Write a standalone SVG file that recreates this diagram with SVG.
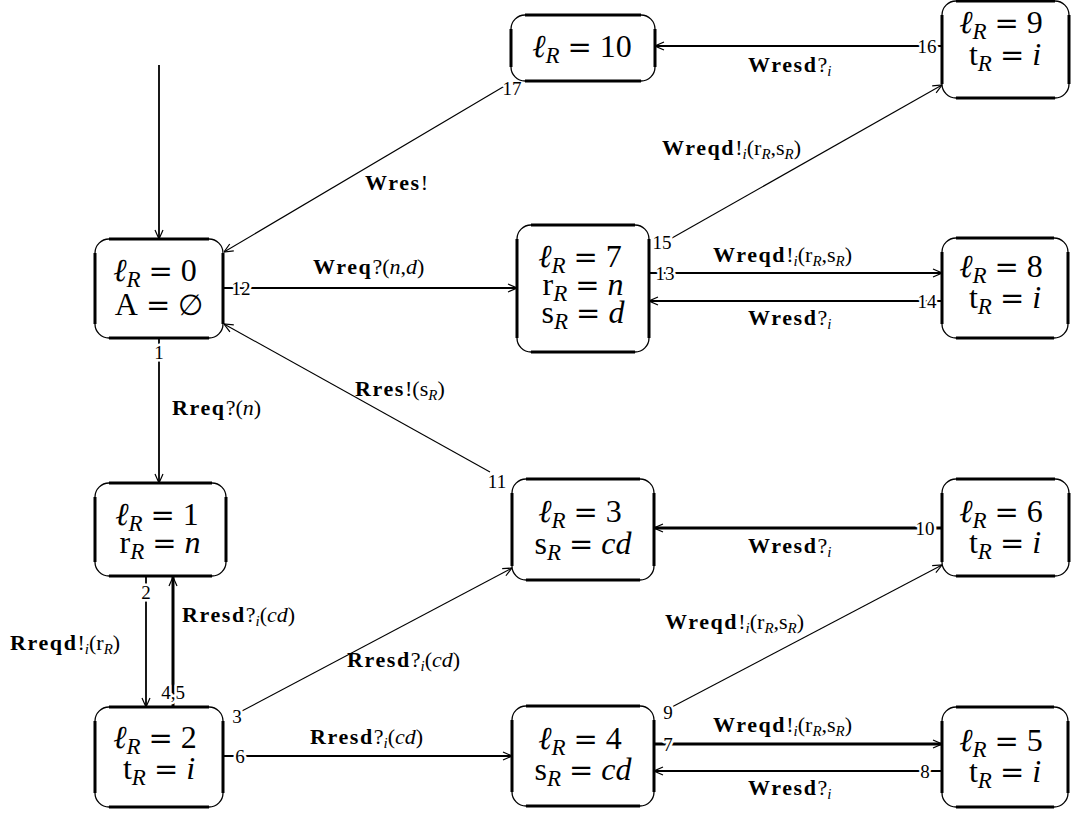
<svg xmlns="http://www.w3.org/2000/svg" width="1071" height="813" viewBox="0 0 1071 813">
  <style>
    text { font-family: "Liberation Serif", "DejaVu Serif", serif; fill: #000; }
    .nt { font-size: 32px; text-anchor: middle; }
    .it { font-style: italic; }
    .sb { font-size: 23px; font-style: italic; }
    .eq { font-family: "DejaVu Serif", serif; font-size: 29px; }
    .lbl { font-size: 22px; }
    .b { font-weight: bold; letter-spacing: 1.6px; }
    .sm { font-size: 15px; font-style: italic; }
    .num { font-size: 19px; text-anchor: middle; paint-order: stroke; stroke: #fff; stroke-width: 5px; stroke-linejoin: round; }
    .box { fill: #fff; stroke: #000; stroke-width: 1.3; }
    .side { fill: none; stroke: #000; stroke-width: 3; }
    .ln { fill: none; stroke: #000; stroke-width: 1.8; marker-end: url(#ah); }
    .thk { stroke-width: 3; }
    .dg { stroke-width: 1.1; }
  </style>
  <defs>
    <marker id="ah" viewBox="0 0 10 10" refX="10" refY="5" markerWidth="10" markerHeight="10" markerUnits="userSpaceOnUse" orient="auto">
      <path d="M1,1 L10,5 L1,9" fill="none" stroke="#000" stroke-width="1.2"/>
    </marker>
  </defs>
  <rect width="1071" height="813" fill="#fff"/>

  <!-- connectors -->
  <g id="connectors">
    <path class="ln" d="M159,65 V239"/>
    <path class="ln" d="M159,338 V483"/>
    <path class="ln" d="M146,576 V707"/>
    <path class="ln thk" d="M173,707 V577"/>
    <path class="ln dg" d="M240,712 L512,568"/>
    <path class="ln" d="M223,756 H512"/>
    <path class="ln thk" d="M654,744 H942"/>
    <path class="ln" d="M942,771 H654"/>
    <path class="ln dg" d="M670,708 L942,565"/>
    <path class="ln thk" d="M942,528 H654"/>
    <path class="ln dg" d="M490,472 L224,324"/>
    <path class="ln" d="M223,288 H517"/>
    <path class="ln" d="M649,273 H942"/>
    <path class="ln" d="M942,301 H649"/>
    <path class="ln dg" d="M672,238 L942,85"/>
    <path class="ln" d="M942,46 H655"/>
    <path class="ln dg" d="M508,84 L224,252"/>

    <!-- transition numbers -->
    <text class="num" x="159" y="359">1</text>
    <text class="num" x="146" y="599">2</text>
    <text class="num" x="237" y="723">3</text>
    <text class="num" x="173" y="699">4,5</text>
    <text class="num" x="240" y="763">6</text>
    <text class="num" x="668" y="751">7</text>
    <text class="num" x="925" y="778">8</text>
    <text class="num" x="668" y="719">9</text>
    <text class="num" x="925" y="535">10</text>
    <text class="num" x="497" y="488">11</text>
    <text class="num" x="241" y="295">12</text>
    <text class="num" x="665" y="280">13</text>
    <text class="num" x="927" y="308">14</text>
    <text class="num" x="662" y="249">15</text>
    <text class="num" x="927" y="53">16</text>
    <text class="num" x="512" y="95">17</text>

    <!-- transition labels -->
    <text class="lbl" x="172" y="415"><tspan class="b">Rreq</tspan>?(<tspan class="it">n</tspan>)</text>
    <text class="lbl" x="313" y="274"><tspan class="b">Wreq</tspan>?(<tspan class="it">n</tspan>,<tspan class="it">d</tspan>)</text>
    <text class="lbl" x="365" y="190"><tspan class="b">Wres</tspan>!</text>
    <text class="lbl" x="355" y="396"><tspan class="b">Rres</tspan>!(s<tspan class="sm" dy="4">R</tspan><tspan dy="-4">)</tspan></text>
    <text class="lbl" x="10" y="650"><tspan class="b">Rreqd</tspan>!<tspan class="sm" dy="4">i</tspan><tspan dy="-4">(r</tspan><tspan class="sm" dy="4">R</tspan><tspan dy="-4">)</tspan></text>
    <text class="lbl" x="182" y="622"><tspan class="b">Rresd</tspan>?<tspan class="sm" dy="4">i</tspan><tspan dy="-4">(</tspan><tspan class="it">cd</tspan>)</text>
    <text class="lbl" x="347" y="667"><tspan class="b">Rresd</tspan>?<tspan class="sm" dy="4">i</tspan><tspan dy="-4">(</tspan><tspan class="it">cd</tspan>)</text>
    <text class="lbl" x="310" y="744"><tspan class="b">Rresd</tspan>?<tspan class="sm" dy="4">i</tspan><tspan dy="-4">(</tspan><tspan class="it">cd</tspan>)</text>
    <text class="lbl" x="713" y="732"><tspan class="b">Wreqd</tspan>!<tspan class="sm" dy="4">i</tspan><tspan dy="-4">(r</tspan><tspan class="sm" dy="4">R</tspan><tspan dy="-4">,s</tspan><tspan class="sm" dy="4">R</tspan><tspan dy="-4">)</tspan></text>
    <text class="lbl" x="748" y="795"><tspan class="b">Wresd</tspan>?<tspan class="sm" dy="4">i</tspan></text>
    <text class="lbl" x="665" y="629"><tspan class="b">Wreqd</tspan>!<tspan class="sm" dy="4">i</tspan><tspan dy="-4">(r</tspan><tspan class="sm" dy="4">R</tspan><tspan dy="-4">,s</tspan><tspan class="sm" dy="4">R</tspan><tspan dy="-4">)</tspan></text>
    <text class="lbl" x="748" y="553"><tspan class="b">Wresd</tspan>?<tspan class="sm" dy="4">i</tspan></text>
    <text class="lbl" x="713" y="262"><tspan class="b">Wreqd</tspan>!<tspan class="sm" dy="4">i</tspan><tspan dy="-4">(r</tspan><tspan class="sm" dy="4">R</tspan><tspan dy="-4">,s</tspan><tspan class="sm" dy="4">R</tspan><tspan dy="-4">)</tspan></text>
    <text class="lbl" x="748" y="325"><tspan class="b">Wresd</tspan>?<tspan class="sm" dy="4">i</tspan></text>
    <text class="lbl" x="662" y="155"><tspan class="b">Wreqd</tspan>!<tspan class="sm" dy="4">i</tspan><tspan dy="-4">(r</tspan><tspan class="sm" dy="4">R</tspan><tspan dy="-4">,s</tspan><tspan class="sm" dy="4">R</tspan><tspan dy="-4">)</tspan></text>
    <text class="lbl" x="748" y="72"><tspan class="b">Wresd</tspan>?<tspan class="sm" dy="4">i</tspan></text>
  </g>

  <!-- node 0 -->
  <g id="n0">
    <rect class="box" x="95" y="239" width="128" height="99" rx="14"/>
    <path class="side" d="M109,239 H209 M223,253 V324 M209,338 H109 M95,324 V253"/>
    <text class="nt" x="155" y="281"><tspan class="it">ℓ</tspan><tspan class="sb" dy="6">R</tspan><tspan class="eq" dy="-6" dx="8">=</tspan><tspan dx="8">0</tspan></text>
    <text class="nt" x="159" y="315">A<tspan class="eq" dx="8">=</tspan><tspan dx="8" class="eq">∅</tspan></text>
  </g>

  <!-- node 1 -->
  <g id="n1">
    <rect class="box" x="95" y="483" width="131" height="93" rx="14"/>
    <path class="side" d="M109,483 H212 M226,497 V562 M212,576 H109 M95,562 V497"/>
    <text class="nt" x="157" y="525"><tspan class="it">ℓ</tspan><tspan class="sb" dy="6">R</tspan><tspan class="eq" dy="-6" dx="8">=</tspan><tspan dx="8">1</tspan></text>
    <text class="nt" x="160" y="553">r<tspan class="sb" dy="6">R</tspan><tspan class="eq" dy="-6" dx="8">=</tspan><tspan dx="8" class="it">n</tspan></text>
  </g>

  <!-- node 2 -->
  <g id="n2">
    <rect class="box" x="95" y="707" width="128" height="100" rx="14"/>
    <path class="side" d="M109,707 H209 M223,721 V793 M209,807 H109 M95,793 V721"/>
    <text class="nt" x="155" y="748"><tspan class="it">ℓ</tspan><tspan class="sb" dy="6">R</tspan><tspan class="eq" dy="-6" dx="8">=</tspan><tspan dx="8">2</tspan></text>
    <text class="nt" x="159" y="779">t<tspan class="sb" dy="6">R</tspan><tspan class="eq" dy="-6" dx="8">=</tspan><tspan dx="8" class="it">i</tspan></text>
  </g>

  <!-- node 3 -->
  <g id="n3">
    <rect class="box" x="512" y="479" width="142" height="101" rx="14"/>
    <path class="side" d="M526,479 H640 M654,493 V566 M640,580 H526 M512,566 V493"/>
    <text class="nt" x="580" y="522"><tspan class="it">ℓ</tspan><tspan class="sb" dy="6">R</tspan><tspan class="eq" dy="-6" dx="8">=</tspan><tspan dx="8">3</tspan></text>
    <text class="nt" x="583" y="554">s<tspan class="sb" dy="6">R</tspan><tspan class="eq" dy="-6" dx="8">=</tspan><tspan dx="8" class="it">cd</tspan></text>
  </g>

  <!-- node 4 -->
  <g id="n4">
    <rect class="box" x="512" y="706" width="142" height="100" rx="14"/>
    <path class="side" d="M526,706 H640 M654,720 V792 M640,806 H526 M512,792 V720"/>
    <text class="nt" x="580" y="749"><tspan class="it">ℓ</tspan><tspan class="sb" dy="6">R</tspan><tspan class="eq" dy="-6" dx="8">=</tspan><tspan dx="8">4</tspan></text>
    <text class="nt" x="583" y="780">s<tspan class="sb" dy="6">R</tspan><tspan class="eq" dy="-6" dx="8">=</tspan><tspan dx="8" class="it">cd</tspan></text>
  </g>

  <!-- node 5 -->
  <g id="n5">
    <rect class="box" x="942" y="707" width="126" height="100" rx="14"/>
    <path class="side" d="M956,707 H1054 M1068,721 V793 M1054,807 H956 M942,793 V721"/>
    <text class="nt" x="1001" y="751"><tspan class="it">ℓ</tspan><tspan class="sb" dy="6">R</tspan><tspan class="eq" dy="-6" dx="8">=</tspan><tspan dx="8">5</tspan></text>
    <text class="nt" x="1005" y="782">t<tspan class="sb" dy="6">R</tspan><tspan class="eq" dy="-6" dx="8">=</tspan><tspan dx="8" class="it">i</tspan></text>
  </g>

  <!-- node 6 -->
  <g id="n6">
    <rect class="box" x="942" y="479" width="127" height="97" rx="14"/>
    <path class="side" d="M956,479 H1055 M1069,493 V562 M1055,576 H956 M942,562 V493"/>
    <text class="nt" x="1001" y="522"><tspan class="it">ℓ</tspan><tspan class="sb" dy="6">R</tspan><tspan class="eq" dy="-6" dx="8">=</tspan><tspan dx="8">6</tspan></text>
    <text class="nt" x="1005" y="553">t<tspan class="sb" dy="6">R</tspan><tspan class="eq" dy="-6" dx="8">=</tspan><tspan dx="8" class="it">i</tspan></text>
  </g>

  <!-- node 7 -->
  <g id="n7">
    <rect class="box" x="517" y="225" width="132" height="127" rx="14"/>
    <path class="side" d="M531,225 H635 M649,239 V338 M635,352 H531 M517,338 V239"/>
    <text class="nt" x="580" y="267"><tspan class="it">ℓ</tspan><tspan class="sb" dy="6">R</tspan><tspan class="eq" dy="-6" dx="8">=</tspan><tspan dx="8">7</tspan></text>
    <text class="nt" x="583" y="295">r<tspan class="sb" dy="6">R</tspan><tspan class="eq" dy="-6" dx="8">=</tspan><tspan dx="8" class="it">n</tspan></text>
    <text class="nt" x="583" y="323">s<tspan class="sb" dy="6">R</tspan><tspan class="eq" dy="-6" dx="8">=</tspan><tspan dx="8" class="it">d</tspan></text>
  </g>

  <!-- node 8 -->
  <g id="n8">
    <rect class="box" x="942" y="238" width="126" height="100" rx="14"/>
    <path class="side" d="M956,238 H1054 M1068,252 V324 M1054,338 H956 M942,324 V252"/>
    <text class="nt" x="1001" y="277"><tspan class="it">ℓ</tspan><tspan class="sb" dy="6">R</tspan><tspan class="eq" dy="-6" dx="8">=</tspan><tspan dx="8">8</tspan></text>
    <text class="nt" x="1005" y="308">t<tspan class="sb" dy="6">R</tspan><tspan class="eq" dy="-6" dx="8">=</tspan><tspan dx="8" class="it">i</tspan></text>
  </g>

  <!-- node 9 -->
  <g id="n9">
    <rect class="box" x="942" y="1" width="127" height="97" rx="14"/>
    <path class="side" d="M956,1 H1055 M1069,15 V84 M1055,98 H956 M942,84 V15"/>
    <text class="nt" x="1001" y="33"><tspan class="it">ℓ</tspan><tspan class="sb" dy="6">R</tspan><tspan class="eq" dy="-6" dx="8">=</tspan><tspan dx="8">9</tspan></text>
    <text class="nt" x="1005" y="65">t<tspan class="sb" dy="6">R</tspan><tspan class="eq" dy="-6" dx="8">=</tspan><tspan dx="8" class="it">i</tspan></text>
  </g>

  <!-- node 10 -->
  <g id="n10">
    <rect class="box" x="511" y="15" width="144" height="66" rx="14"/>
    <path class="side" d="M525,15 H641 M655,29 V67 M641,81 H525 M511,67 V29"/>
    <text class="nt" x="582" y="57"><tspan class="it">ℓ</tspan><tspan class="sb" dy="6">R</tspan><tspan class="eq" dy="-6" dx="8">=</tspan><tspan dx="8">10</tspan></text>
  </g>
</svg>
